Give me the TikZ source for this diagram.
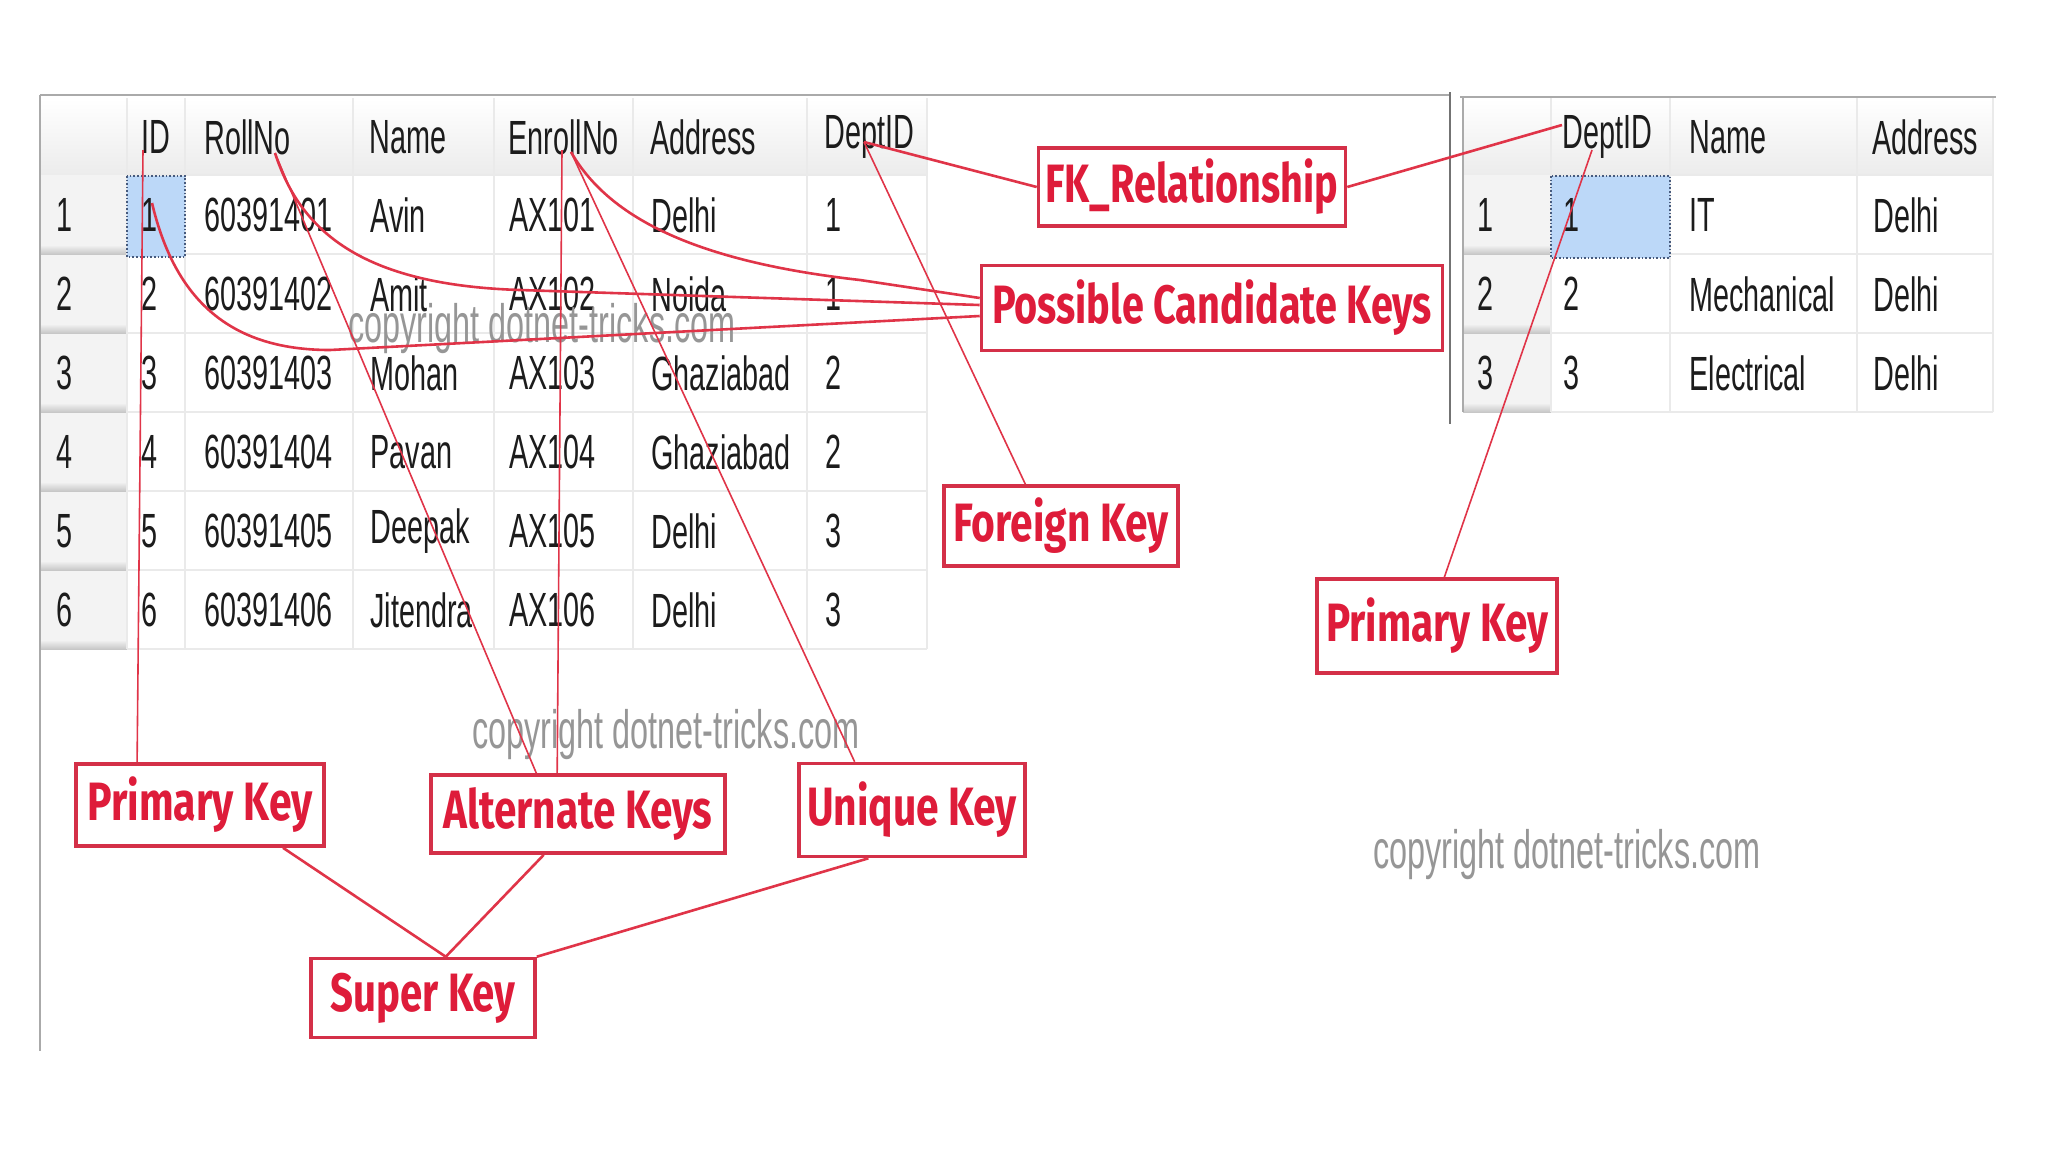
\documentclass[tikz,border=0pt]{standalone}
\usepackage{fontspec}
\setmainfont{Liberation Sans}
\newfontfamily\tblfont[FakeStretch=0.6]{Liberation Sans}
\newfontfamily\labfont{Fira Sans}
\usetikzlibrary{calc}
\definecolor{tbltext}{RGB}{28,28,28}
\definecolor{gridc}{RGB}{234,234,234}
\definecolor{hdrgray}{RGB}{236,236,236}
\definecolor{rowgray}{RGB}{243,243,243}
\definecolor{bordc}{RGB}{170,170,170}
\definecolor{selfill}{RGB}{188,216,248}
\definecolor{seldraw}{RGB}{70,90,125}
\definecolor{keyred}{RGB}{222,28,58}
\definecolor{boxred}{RGB}{212,48,72}
\definecolor{linkred}{RGB}{224,52,72}
\definecolor{wmgray}{RGB}{150,150,150}
\newcommand\kw[2]{\resizebox{#1}{\height}{#2}}
\tikzset{
  cell/.style={anchor=west, inner sep=0pt, text=tbltext, font=\tblfont\fontsize{24}{28}\selectfont},
  wmark/.style={inner sep=0pt, text=wmgray, font=\tblfont\fontsize{27}{30}\selectfont},
  keybox/.style={draw=boxred, line width=1.8pt, fill=white, inner sep=0pt, align=center,
     text=keyred, font=\labfont\bfseries\fontsize{27}{30}\selectfont},
  link/.style={draw=linkred, line width=0.8pt},
  biglink/.style={draw=linkred, line width=1.3pt},
  gridline/.style={draw=gridc, line width=0.7pt},
  selbox/.style={fill=selfill, draw=seldraw, densely dotted, line width=0.8pt}
}
\begin{document}
\begin{tikzpicture}[x=0.5pt,y=-0.5pt]
\useasboundingbox (0,0) rectangle (2048,1152);
\fill[white] (0,0) rectangle (2048,1152);

% ---------- left table background ----------
\shade[top color=white, bottom color=hdrgray] (40,98) rectangle (927,175);
\fill[rowgray] (40,175) rectangle (127,649);
\foreach \k in {0,...,5}{
  \pgfmathsetmacro\yb{175+(\k+1)*79}
  \shade[top color=rowgray, bottom color=black!22] (40,\yb-9) rectangle (127,\yb);
}
\foreach \k in {0,...,6}{
  \pgfmathsetmacro\yl{175+\k*79}
  \draw[gridline] (127,\yl) -- (927,\yl);
}
\foreach \xx in {127,185,353,494,633,807,927}{
  \draw[gridline] (\xx,98) -- (\xx,649);
}
\draw[selbox] (127,176) rectangle (185,257);

% ---------- right table background ----------
\shade[top color=white, bottom color=hdrgray] (1463,98) rectangle (1993,175);
\fill[rowgray] (1463,175) rectangle (1551,412);
\foreach \k in {0,...,2}{
  \pgfmathsetmacro\yb{175+(\k+1)*79}
  \shade[top color=rowgray, bottom color=black!22] (1463,\yb-9) rectangle (1551,\yb);
}
\foreach \k in {0,...,3}{
  \pgfmathsetmacro\yl{175+\k*79}
  \draw[gridline] (1551,\yl) -- (1993,\yl);
}
\foreach \xx in {1551,1670,1857,1993}{
  \draw[gridline] (\xx,98) -- (\xx,412);
}
\draw[selbox] (1551,176) rectangle (1670,258);

% ---------- borders ----------
\draw[bordc, line width=0.8pt] (40,95) -- (1450,95);
\draw[bordc, line width=0.8pt] (40,95) -- (40,1051);
\draw[black!55, line width=1pt] (1450,92) -- (1450,424);
\draw[bordc, line width=0.8pt] (1460,97) -- (1996,97);
\draw[bordc, line width=0.6pt] (1463,97) -- (1463,412);

% ---------- left table text ----------
\node[cell] (LH1) at (141,137) {ID};
\node[cell] (LH2) at (204,137) {RollNo};
\node[cell] (LH3) at (369,137) {Name};
\node[cell] (LH4) at (508,137) {EnrollNo};
\node[cell] (LH5) at (650,137) {Address};
\node[cell] (LH6) at (824,137) {DeptID};
\foreach \n/\va/\vb/\vc/\vd/\ve/\vf in {
  1/1/60391401/Avin/AX101/Delhi/1,
  2/2/60391402/Amit/AX102/Noida/1,
  3/3/60391403/Mohan/AX103/Ghaziabad/2,
  4/4/60391404/Pavan/AX104/Ghaziabad/2,
  5/5/60391405/Deepak/AX105/Delhi/3,
  6/6/60391406/Jitendra/AX106/Delhi/3}{
  \pgfmathsetmacro\yy{215+(\n-1)*79}
  \node[cell] (L\n-0) at (56,\yy) {\n};
  \node[cell] (L\n-1) at (141,\yy) {\va};
  \node[cell] (L\n-2) at (204,\yy) {\vb};
  \node[cell] (L\n-3) at (370,\yy) {\vc};
  \node[cell] (L\n-4) at (509,\yy) {\vd};
  \node[cell] (L\n-5) at (651,\yy) {\ve};
  \node[cell] (L\n-6) at (825,\yy) {\vf};
}

% ---------- right table text ----------
\node[cell] (RH1) at (1562,137) {DeptID};
\node[cell] (RH2) at (1689,137) {Name};
\node[cell] (RH3) at (1872,137) {Address};
\foreach \n/\vn in {1/IT, 2/Mechanical, 3/Electrical}{
  \pgfmathsetmacro\yy{215+(\n-1)*79}
  \node[cell] (R\n-0) at (1477,\yy) {\n};
  \node[cell] (R\n-1) at (1563,\yy) {\n};
  \node[cell] (R\n-2) at (1689,\yy) {\vn};
  \node[cell] (R\n-3) at (1873,\yy) {Delhi};
}

% ---------- watermarks ----------
\node[wmark] (wm1) at (542,329) {copyright dotnet-tricks.com};
\node[wmark] (wm2) at (666,735) {copyright dotnet-tricks.com};
\node[wmark] (wm3) at (1567,855) {copyright dotnet-tricks.com};

% ---------- anchor points on the tables ----------
\coordinate (idTop) at (143,150);
\coordinate (idCell) at (152,203);
\coordinate (rollTop) at (275,153);
\coordinate (enrTop) at (562,150);
\coordinate (enrTopB) at (571,152);
\coordinate (deptTop) at (864,142);
\coordinate (rdeptL) at (1562,125);
\coordinate (rdeptTop) at (1592,150);

% ---------- key boxes ----------
\node[keybox, minimum width=153.5pt, minimum height=39pt] (fkrel) at (1192,187) {\kw{146.5pt}{FK\_Relationship}};
\node[keybox, minimum width=230.5pt, minimum height=42.5pt] (pck) at (1212,308) {\kw{220pt}{Possible Candidate Keys}};
\node[keybox, minimum width=117pt, minimum height=40pt] (fk) at (1061,526) {\kw{107.5pt}{Foreign Key}};
\node[keybox, minimum width=120pt, minimum height=47pt] (pkR) at (1437,626) {\kw{111pt}{Primary Key}};
\node[keybox, minimum width=124pt, minimum height=41pt] (pkL) at (200,805) {\kw{112.5pt}{Primary Key}};
\node[keybox, minimum width=147pt, minimum height=39pt] (alt) at (578,814) {\kw{134.5pt}{Alternate Keys}};
\node[keybox, minimum width=113pt, minimum height=46.5pt] (uni) at (912,810) {\kw{105pt}{Unique Key}};
\node[keybox, minimum width=112pt, minimum height=39.5pt] (sup) at (423,998) {\kw{92.5pt}{Super Key}};

% ---------- connectors ----------
\draw[link] (idTop) -- ($(pkL.north west)!0.25!(pkL.north east)$);
\draw[link] (rollTop) -- ($(alt.north west)!0.36!(alt.north east)$);
\draw[link] (enrTop) -- ($(alt.north west)!0.43!(alt.north east)$);
\draw[link] (enrTopB) -- ($(uni.north west)!0.25!(uni.north east)$);
\draw[link] (deptTop) -- ($(fk.north west)!0.35!(fk.north east)$);
\draw[link] (rdeptTop) -- ($(pkR.north west)!0.53!(pkR.north east)$);
\draw[biglink] (deptTop) -- (fkrel.west);
\draw[biglink] (fkrel.east) -- (rdeptL);
\draw[biglink] (idCell) .. controls (175,300) and (230,350) .. (330,350) -- ($(pck.west)+(0,8)$);
\draw[biglink] (rollTop) .. controls (300,230) and (360,285) .. (520,290) -- ($(pck.west)+(0,-3)$);
\draw[biglink] (enrTopB) .. controls (610,220) and (700,262) .. (860,280) -- ($(pck.west)+(0,-10)$);
\draw[biglink] ($(pkL.south west)!0.83!(pkL.south east)$) -- ($(sup.north west)!0.6!(sup.north east)$);
\draw[biglink] ($(alt.south west)!0.385!(alt.south east)$) -- ($(sup.north west)!0.6!(sup.north east)$);
\draw[biglink] ($(uni.south west)!0.31!(uni.south east)$) -- (sup.north east);
\end{tikzpicture}
\end{document}
